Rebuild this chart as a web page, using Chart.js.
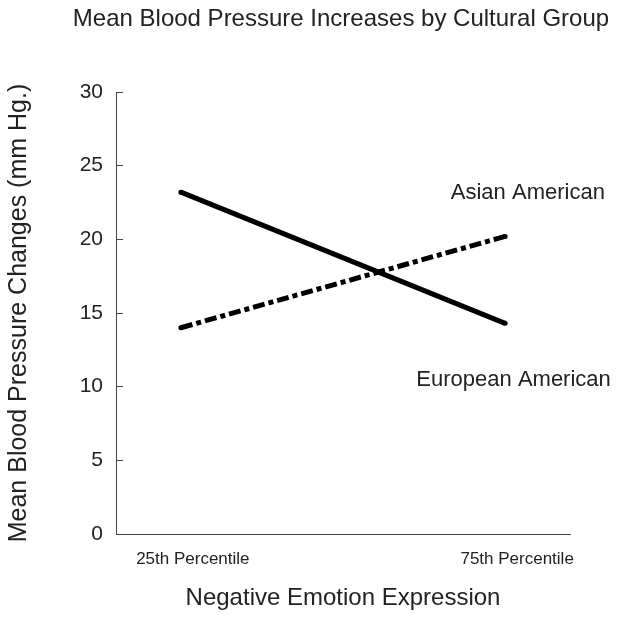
<!DOCTYPE html>
<html>
<head>
<meta charset="utf-8">
<script src="https://cdn.jsdelivr.net/npm/chart.js@4.4.1/dist/chart.umd.min.js"></script>
<style>
  html, body { margin: 0; padding: 0; background: #fff; }
  #wrap { width: 624px; height: 618px; }
</style>
</head>
<body>
<div id="wrap"><canvas id="c" width="624" height="618"></canvas></div>
<script>
// 横軸: 否定的感情表出のパーセンタイル
const percentiles = [25, 75];
const xTickLabels = ['25th Percentile', '75th Percentile'];
const yTicks = [0, 5, 10, 15, 20, 25, 30];

// 平均血圧変化 (mm Hg.)
const asianAmerican = [14.0, 20.2];     // 破線
const europeanAmerican = [23.2, 14.3];  // 実線

const seriesNames = ['Asian American', 'European American'];
const chartTitle = 'Mean Blood Pressure Increases by Cultural Group';
const xTitle = 'Negative Emotion Expression';
const yTitle = 'Mean Blood Pressure Changes (mm Hg.)';

const FONT = "'Liberation Sans', Arial, Helvetica, sans-serif";
const INK = '#222';
const AXIS = '#444';

/**
 * タイトルと系列名を描く
 */
const textPlugin = {
  id: 'textPlugin',
  afterDraw(chart) {
    const { ctx, scales: { x, y } } = chart;
    ctx.save();
    ctx.fillStyle = INK;
    ctx.textAlign = 'center';
    ctx.textBaseline = 'alphabetic';
    ctx.font = '24px ' + FONT;
    ctx.fillText(chartTitle, 341, 26);

    // 系列名（右端の近くに配置）
    ctx.font = '22px ' + FONT;
    ctx.textBaseline = 'middle';
    ctx.fillText(seriesNames[0], x.getPixelForValue(78.5), y.getPixelForValue(23.15));
    ctx.fillText(seriesNames[1], x.getPixelForValue(76.3), y.getPixelForValue(10.45));
    ctx.restore();
  }
};

const toPoints = (vals) => vals.map((v, i) => ({ x: percentiles[i], y: v }));

new Chart(document.getElementById('c'), {
  type: 'line',
  data: {
    datasets: [
      {
        label: seriesNames[1],
        data: toPoints(europeanAmerican),
        borderColor: '#000',
        backgroundColor: '#000',
        borderWidth: 5,
        pointRadius: 2.5,
        pointBorderWidth: 0,
        fill: false,
      },
      {
        label: seriesNames[0],
        data: toPoints(asianAmerican),
        borderColor: '#000',
        backgroundColor: '#000',
        borderWidth: 5,
        borderDash: [12, 4, 5, 4],
        pointRadius: 2.5,
        pointBorderWidth: 0,
        fill: false,
      },
    ]
  },
  options: {
    responsive: false,
    animation: false,
    events: [],
    layout: { padding: { top: 92, right: 54, left: 0, bottom: 0 } },
    plugins: {
      legend: { display: false },
      title: { display: false },
      tooltip: { enabled: false },
    },
    scales: {
      x: {
        type: 'linear',
        min: 15,
        max: 85,
        afterBuildTicks: (s) => { s.ticks = percentiles.map(v => ({ value: v })); },
        afterFit: (s) => { s.height = 84; },
        grid: { display: false, drawTicks: false },
        border: { display: true, color: AXIS, width: 1 },
        ticks: {
          padding: 15,
          labelOffset: 12,
          maxRotation: 0,
          autoSkip: false,
          color: INK,
          font: { family: FONT, size: 17 },
          callback: (v, i) => xTickLabels[i],
        },
        title: {
          display: true,
          text: xTitle,
          color: INK,
          font: { family: FONT, size: 24 },
          padding: { top: 0, bottom: 5 },
        },
      },
      y: {
        min: 0,
        max: 30,
        afterBuildTicks: (s) => { s.ticks = yTicks.map(v => ({ value: v })); },
        afterFit: (s) => { s.width = 116; },
        grid: {
          drawOnChartArea: false,
          drawTicks: true,
          tickLength: -7,
          color: AXIS,
          lineWidth: 1,
        },
        border: { display: true, color: AXIS, width: 1 },
        ticks: {
          padding: 20,
          color: INK,
          font: { family: FONT, size: 21 },
        },
        title: {
          display: true,
          text: yTitle,
          color: INK,
          font: { family: FONT, size: 25 },
          padding: { top: 4, bottom: 0 },
        },
      },
    },
  },
  plugins: [textPlugin],
});
</script>
</body>
</html>
